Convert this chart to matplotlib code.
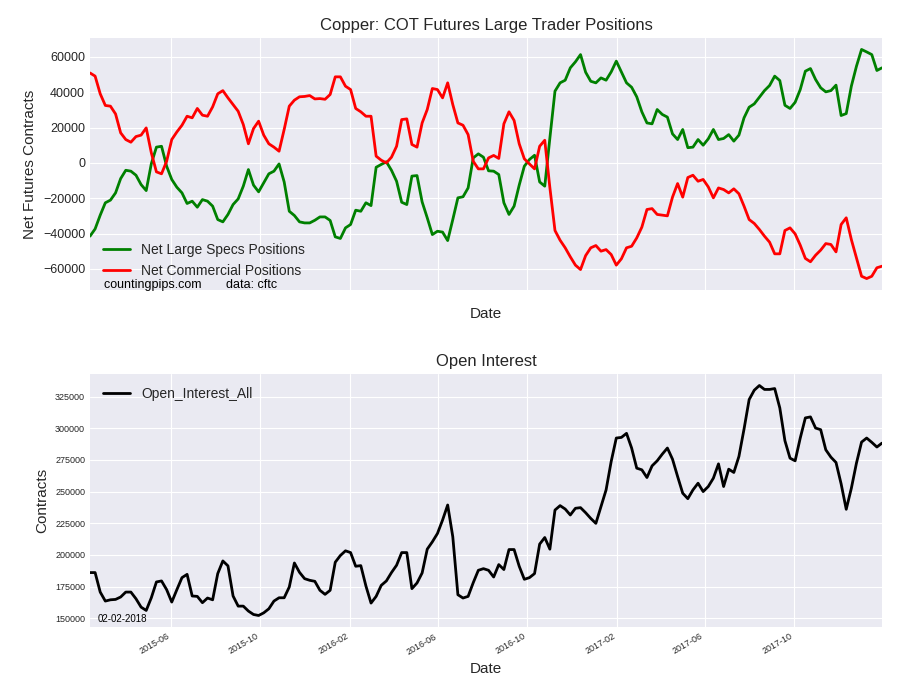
import numpy as np
import pandas as pd
import matplotlib
matplotlib.use("Agg")
import matplotlib.pyplot as plt
import matplotlib.dates as mdates
import matplotlib.ticker as mticker

# weekly COT report dates (Tuesdays)
dates = pd.date_range("2015-02-10", "2018-01-30", freq="7D")

net_large_specs = [
    -41500, -37400, -29600, -22600, -21100, -17000, -8900, -4200, -4700, -7000,
    -12300, -15700, -500, 8900, 9400, -1900, -9400, -13800, -17000, -23000,
    -21700, -25100, -20800, -21700, -24500, -32100, -33400, -29200, -23600, -20400,
    -13200, -3800, -12600, -16400, -11300, -6200, -4700, -600, -10800, -27400,
    -29800, -33400, -34000, -34000, -32500, -30600, -30600, -32600, -41900, -42800,
    -36800, -34900, -26800, -27400, -22600, -24200, -2500, -900, 600, -4200,
    -10400, -22300, -23600, -7500, -7200, -22100, -31100, -40600, -38700, -39200,
    -44000, -32100, -19800, -19200, -14200, 2800, 5100, 3200, -4500, -4700,
    -6600, -22600, -29200, -24500, -12600, -1900, 1900, 4300, -10800, -13200,
    14000, 40600, 45300, 46800, 53800, 57200, 61300, 51300, 46200, 45300,
    48100, 46800, 51500, 57600, 51500, 45300, 42800, 37400, 28900, 22600,
    22100, 30200, 27400, 25900, 16400, 13200, 18900, 8600, 8900, 13200,
    10000, 13600, 18900, 13200, 13800, 16000, 12300, 15700, 25500, 31500,
    33400, 37200, 40900, 43800, 49100, 46600, 32600, 30800, 34300, 41500,
    51900, 53400, 47200, 42500, 40200, 40900, 44000, 26800, 27900, 43400,
    54700, 64200, 62800, 61300, 52300, 53800,
]

net_commercial = [
    50900, 49100, 39100, 32500, 32100, 27700, 17000, 13200, 11700, 14900,
    15700, 19800, 5700, -5100, -6200, 900, 13200, 17500, 21300, 26400,
    25500, 30800, 27000, 26400, 31700, 39100, 40900, 36800, 33000, 29200,
    21700, 10800, 19400, 23600, 15700, 10800, 8900, 6600, 18900, 32100,
    35500, 37400, 37600, 38100, 36200, 36400, 36000, 38700, 48700, 48700,
    43400, 41500, 30800, 28900, 26400, 26400, 3800, 1500, 0, 3200,
    9400, 24500, 24900, 10400, 8900, 22600, 30200, 42100, 41500, 36800,
    45300, 33000, 22600, 21300, 16000, 900, -3400, -3400, 2800, 4200,
    2500, 22100, 28900, 24000, 10800, 2300, -600, -3400, 9400, 12800,
    -14000, -38300, -43800, -48100, -53200, -57900, -60400, -52500, -48100, -46800,
    -50000, -49100, -51900, -57900, -54300, -48100, -47200, -42500, -36400, -26400,
    -25900, -29200, -29600, -30000, -19400, -11700, -19400, -8300, -7000, -10400,
    -9400, -13600, -19800, -14200, -15100, -17000, -14700, -17500, -24500, -32100,
    -34300, -37700, -41500, -44900, -51500, -51500, -38300, -36800, -40200, -46600,
    -54100, -56000, -52300, -49400, -45700, -46200, -50400, -34900, -31100, -43400,
    -53800, -64200, -65500, -64200, -59400, -58500,
]

open_interest = [
    186000, 186000, 170600, 163500, 164500, 164800, 166700, 170600, 170600, 165300,
    158700, 156100, 166100, 178600, 179400, 172500, 162700, 172500, 182000, 184600,
    167500, 167200, 162200, 165900, 164500, 185200, 195200, 191300, 167500, 159500,
    159500, 155600, 152900, 152100, 154200, 157400, 163500, 166100, 166100, 174600,
    193600, 186200, 181200, 179900, 179100, 172000, 168800, 172000, 194200, 199500,
    203200, 201800, 191000, 191500, 175400, 161900, 167200, 175900, 179400, 186000,
    191800, 201800, 201800, 173300, 177800, 185700, 204500, 210300, 216900, 227500,
    239400, 214300, 168500, 165900, 167200, 178000, 187800, 189100, 187800, 182500,
    192300, 188400, 204200, 204200, 191000, 180700, 182000, 185200, 208500, 213700,
    204500, 235400, 238900, 236200, 231500, 236800, 237300, 233300, 228800, 224900,
    238100, 251300, 273800, 292300, 292800, 296000, 284400, 268500, 267200, 261100,
    270300, 274300, 279600, 284400, 275600, 261900, 248700, 244400, 251300, 256600,
    250000, 254000, 260600, 271900, 254000, 267700, 265100, 277800, 299400, 322700,
    330100, 333800, 330700, 330700, 331400, 316100, 290200, 276400, 274300, 292300,
    308200, 309000, 300200, 298900, 283000, 277200, 273000, 256100, 236000, 252600,
    272500, 289100, 292300, 288900, 285200, 288300,
]

plt.style.use("seaborn-v0_8-darkgrid")
plt.rcParams["font.family"] = ["Liberation Sans", "DejaVu Sans"]
text_color = "0.15"

fig = plt.figure(figsize=(9, 7), dpi=100)
ax1 = fig.add_axes([0.1, 0.5857, 0.88, 0.36])
ax2 = fig.add_axes([0.1, 0.1043, 0.88, 0.3614])

# --- top: net positions ---
ax1.plot(dates, net_large_specs, color="green", lw=2, label="Net Large Specs Positions")
ax1.plot(dates, net_commercial, color="red", lw=2, label="Net Commercial Positions")
ax1.set_xlim(dates[0], dates[-1])
ax1.yaxis.set_major_locator(mticker.MultipleLocator(20000))
ax1.xaxis.set_major_locator(mdates.MonthLocator(bymonth=[2, 6, 10]))
ax1.tick_params(axis="x", labelbottom=False)
ax1.tick_params(axis="y", labelsize=9, colors=text_color)
ax1.set_title("Copper: COT Futures Large Trader Positions", fontsize=12, color=text_color)
ax1.set_ylabel("Net Futures Contracts", fontsize=11, color=text_color)
ax1.set_xlabel("Date", fontsize=11, color=text_color, labelpad=12)
ax1.legend(loc="lower left", fontsize=10, frameon=False)
ax1.text(0.018, 0.02, "countingpips.com       data: cftc", transform=ax1.transAxes,
         fontsize=9, va="center", ha="left", color="black")

# --- bottom: open interest ---
ax2.plot(dates, open_interest, color="black", lw=2, label="Open_Interest_All")
ax2.set_xlim(dates[0], dates[-1])
ax2.yaxis.set_major_locator(mticker.MultipleLocator(25000))
ax2.xaxis.set_major_locator(mdates.MonthLocator(bymonth=[2, 6, 10]))
ax2.xaxis.set_major_formatter(mdates.DateFormatter("%Y-%m"))
ax2.tick_params(axis="both", labelsize=6.5, colors=text_color)
for lbl in ax2.get_xticklabels():
    lbl.set_rotation(30)
    lbl.set_ha("right")
ax2.set_title("Open Interest", fontsize=12, color=text_color)
ax2.set_ylabel("Contracts", fontsize=11, color=text_color)
ax2.set_xlabel("Date", fontsize=11, color=text_color)
ax2.legend(loc="upper left", fontsize=10, frameon=False)
ax2.text(0.009, 0.032, "02-02-2018", transform=ax2.transAxes,
         fontsize=7, va="center", ha="left", color="black")

fig.savefig("out.png", dpi=100)
